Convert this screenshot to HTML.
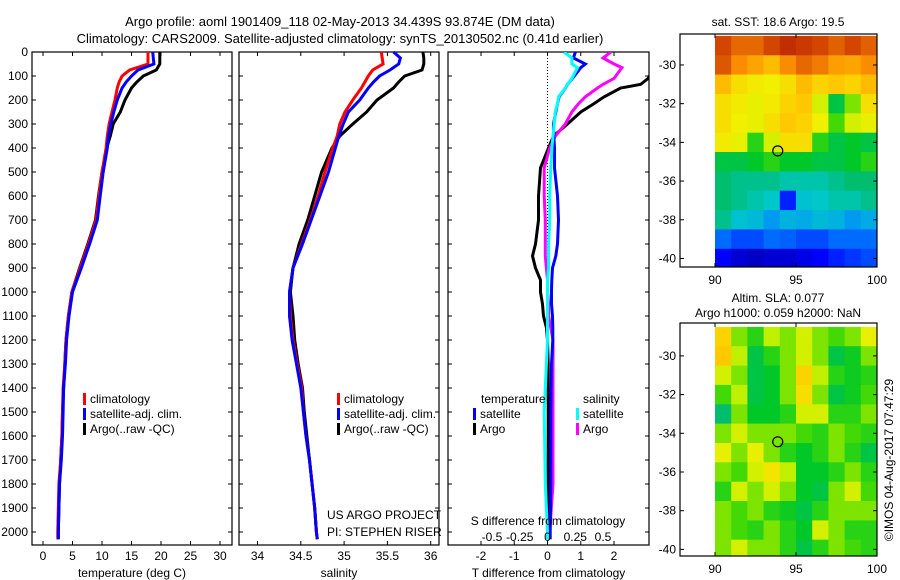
<!DOCTYPE html>
<html><head><meta charset="utf-8"><style>
body{margin:0;background:#fff;}
svg{display:block;font-family:"Liberation Sans",sans-serif;}
text{font-size:12px;fill:#000;}
</style></head><body>
<svg id="c" width="900" height="580" viewBox="0 0 900 580" xmlns="http://www.w3.org/2000/svg">
<text x="340" y="26" text-anchor="middle" style="font-size:13px">Argo profile: aoml 1901409_118 02-May-2013 34.439S 93.874E (DM data)</text>
<text x="340" y="43" text-anchor="middle" style="font-size:13px">Climatology: CARS2009. Satellite-adjusted climatology: synTS_20130502.nc (0.41d earlier)</text>
<g id="g"></g>
</svg>
<script>
const depths=[0,25,50,75,100,125,150,200,250,300,350,400,500,600,700,800,900,1000,1100,1200,1300,1400,1500,1600,1700,1800,1900,2000,2030];
const tempClim=[17.8,17.8,17.8,14.7,13.4,12.9,12.6,12.2,11.7,11.2,10.9,10.7,10.0,9.5,9.0,7.7,6.3,4.9,4.3,3.9,3.7,3.4,3.3,3.2,3.0,2.7,2.6,2.5,2.5];
const tempSat=[18.6,18.7,18.8,16.1,15.0,14.1,13.4,12.6,12.0,11.5,11.1,10.9,10.2,9.7,9.2,7.9,6.5,5.0,4.4,4.0,3.8,3.5,3.4,3.3,3.1,2.8,2.7,2.6,2.6];
const tempArgo=[19.8,19.8,19.8,19.2,17.0,15.9,15.0,13.9,13.1,11.9,11.4,10.8,10.0,9.4,8.9,7.6,6.2,4.9,4.3,3.9,3.7,3.5,3.3,3.2,3.0,2.8,2.7,2.6,2.6];
const salClim=[35.43,35.44,35.45,35.33,35.28,35.24,35.2,35.1,35.01,34.95,34.92,34.87,34.78,34.7,34.61,34.51,34.41,34.37,34.38,34.41,34.46,34.51,34.53,34.56,34.6,34.63,34.66,34.68,34.69];
const salSat=[35.57,35.65,35.63,35.53,35.41,35.34,35.28,35.18,35.05,34.99,34.94,34.9,34.82,34.72,34.62,34.52,34.41,34.37,34.37,34.4,34.45,34.5,34.53,34.56,34.6,34.63,34.66,34.68,34.69];
const salArgo=[35.91,35.92,35.92,35.9,35.7,35.63,35.57,35.38,35.26,35.1,34.95,34.86,34.74,34.66,34.58,34.48,34.41,34.38,34.41,34.43,34.47,34.52,34.54,34.57,34.6,34.63,34.66,34.68,34.69];
const diffDepths=[0,25,50,65,110,135,150,187,215,250,300,350,400,483,600,700,800,850,900,950,1000,1050,1100,1150,1200,1300,1500,1800,2000,2030];
const dTSat=[0.84,0.78,1.14,1.0,0.75,0.6,0.54,0.35,0.3,0.25,0.18,0.19,0.21,0.21,0.3,0.33,0.3,0.25,0.15,0.13,0.12,0.12,0.15,0.16,0.16,0.12,0.1,0.1,0.08,0.08];
const dTArgo=[3.2,3.2,3.2,3.2,3.03,2.8,2.2,1.7,1.4,1.0,0.6,0.18,0.03,-0.21,-0.27,-0.27,-0.36,-0.45,-0.36,-0.21,-0.21,-0.15,-0.12,-0.03,0,0.02,0.02,0.02,0.02,0.02];
const dSSat=[0.15,0.22,0.22,0.27,0.22,0.18,0.16,0.1,0.09,0.07,0.06,0.05,0.04,0.03,0.02,0.02,0.01,0.01,0.01,0.0,0.0,0.0,0.0,0.0,0.0,-0.01,-0.03,-0.02,0.0,0.0];
const dSArgo=[0.57,0.5,0.6,0.67,0.6,0.5,0.45,0.34,0.28,0.22,0.16,0.07,0.02,-0.03,-0.03,-0.02,-0.02,-0.02,-0.01,0,0,0.01,0.01,0.03,0.05,0.05,0.05,0.05,0.02,0.02];
const depthTicks=[0,100,200,300,400,500,600,700,800,900,1000,1100,1200,1300,1400,1500,1600,1700,1800,1900,2000];
const tempTicks=[0,5,10,15,20,25,30];
const salTicks=[34,34.5,35,35.5,36];
const salTickLabels=["34","34.5","35","35.5","36"];
const dTTicks=[-2,-1,0,1,2];
const dSTicks=[-0.5,-0.25,0,0.25,0.5];
const dSTickLabels=["-0.5","-0.25","0","0.25","0.5"];
const lonTicks=[90,95,100];
const latTicks=[-30,-32,-34,-36,-38,-40];
const argoLon=93.874, argoLat=-34.439;
const sstGrid=[
[0.88,0.84,0.84,0.88,0.92,0.9,0.88,0.85,0.88,0.85],
[0.86,0.8,0.76,0.72,0.8,0.84,0.82,0.77,0.76,0.8],
[0.72,0.66,0.64,0.63,0.66,0.72,0.68,0.7,0.68,0.72],
[0.66,0.64,0.62,0.64,0.68,0.7,0.6,0.45,0.55,0.66],
[0.66,0.63,0.62,0.66,0.7,0.68,0.63,0.52,0.6,0.62],
[0.64,0.62,0.5,0.6,0.66,0.66,0.5,0.45,0.47,0.45],
[0.45,0.45,0.47,0.5,0.47,0.47,0.45,0.45,0.47,0.5],
[0.42,0.4,0.4,0.4,0.38,0.38,0.38,0.4,0.42,0.42],
[0.42,0.4,0.38,0.36,0.18,0.35,0.36,0.38,0.38,0.4],
[0.4,0.35,0.34,0.3,0.33,0.32,0.34,0.33,0.3,0.32],
[0.25,0.22,0.22,0.25,0.24,0.22,0.22,0.25,0.25,0.25],
[0.15,0.1,0.08,0.1,0.1,0.12,0.15,0.18,0.2,0.22]];
const slaGrid=[
[0.68,0.55,0.5,0.58,0.55,0.6,0.55,0.52,0.55,0.62],
[0.7,0.58,0.45,0.5,0.55,0.6,0.55,0.45,0.48,0.55],
[0.6,0.55,0.45,0.47,0.55,0.68,0.58,0.5,0.48,0.5],
[0.52,0.58,0.45,0.47,0.55,0.66,0.55,0.45,0.48,0.52],
[0.42,0.55,0.47,0.47,0.5,0.6,0.6,0.5,0.5,0.55],
[0.55,0.6,0.55,0.55,0.55,0.52,0.5,0.55,0.52,0.5],
[0.62,0.55,0.62,0.55,0.5,0.47,0.5,0.55,0.5,0.45],
[0.55,0.52,0.6,0.65,0.58,0.47,0.47,0.5,0.55,0.5],
[0.5,0.6,0.55,0.6,0.55,0.47,0.45,0.55,0.6,0.52],
[0.55,0.52,0.55,0.5,0.48,0.45,0.5,0.55,0.55,0.55],
[0.55,0.52,0.5,0.55,0.5,0.47,0.6,0.55,0.5,0.5],
[0.55,0.6,0.55,0.55,0.5,0.45,0.5,0.55,0.52,0.5]];

const NS="http://www.w3.org/2000/svg";
const G=document.getElementById('g');
function mk(tag,attrs,parent){const e=document.createElementNS(NS,tag);for(const k in attrs)e.setAttribute(k,attrs[k]);(parent||G).appendChild(e);return e;}
function txt(s,x,y,anchor,size,parent){const t=mk('text',{x:x,y:y,'text-anchor':anchor||'start'},parent);if(size)t.style.fontSize=size+'px';t.textContent=s;return t;}
const Y0=52,YK=0.24;
function yD(d){return Y0+d*YK;}
function lin(v0,p0,v1,p1){return v=>p0+(v-v0)*(p1-p0)/(v1-v0);}
const xT=lin(0,43,30,220);
const xS=lin(34,257.5,36,430.7);
const xDT=lin(0,547.5,2,614);
const xDS=lin(0,547.5,0.5,603);
const PT=52,PB=545;
function panel(name,x0,x1,xs,ticks,labels,title,showDepth){
  const g=mk('g',{});
  
  
  const r=mk('rect',{x:x0,y:PT,width:x1-x0,height:PB-PT,fill:'none',stroke:'#000','stroke-width':1.2},g);
  
  
  depthTicks.forEach(d=>{
    mk('line',{x1:x0,x2:x0+4,y1:yD(d),y2:yD(d),stroke:'#000'},g);
    mk('line',{x1:x1-4,x2:x1,y1:yD(d),y2:yD(d),stroke:'#000'},g);
    if(showDepth){const t=txt(String(d),28,yD(d)+4,'end',12,g);
      
      }
  });
  if(ticks){ticks.forEach((v,i)=>{
    const x=xs(v);
    mk('line',{x1:x,x2:x,y1:PB,y2:PB-4,stroke:'#000'},g);
    mk('line',{x1:x,x2:x,y1:PT,y2:PT+4,stroke:'#000'},g);
    const t=txt(labels[i],x,560,'middle',12,g);
    
    
  });}
  const tt=txt(title,(x0+x1)/2,577,'middle',12,g);
  
  
  return g;
}
function series(name,vals,ds,xs,color,g,w){
  const pts=vals.map((v,i)=>xs(v).toFixed(1)+','+yD(ds[i]).toFixed(1)).join(' ');
  const p=mk('polyline',{points:pts,fill:'none',stroke:color,'stroke-width':w||3,'stroke-linejoin':'miter'},g);
  
  
}
function legendEntry(name,x,y,color,label,g){
  const r=mk('rect',{x:x,y:y-10,width:3,height:12,fill:color},g);
  
  
  const t=txt(label,x+7,y,'start',12,g);
  
  
}
const p1=panel('temperature-panel',32,232,xT,tempTicks,tempTicks.map(String),'temperature (deg C)',true);
series('temp-argo-line',tempArgo,depths,xT,'#000',p1);
series('temp-clim-line',tempClim,depths,xT,'#f00',p1);
series('temp-sat-line',tempSat,depths,xT,'#00f',p1);
legendEntry('legend-climatology',83,403,'#f00','climatology',p1);
legendEntry('legend-satellite-adj',83,418,'#00f','satellite-adj. clim.',p1);
legendEntry('legend-argo',83,433,'#000','Argo(..raw -QC)',p1);
const p2=panel('salinity-panel',239,439,xS,salTicks,salTickLabels,'salinity',false);
series('sal-argo-line',salArgo,depths,xS,'#000',p2);
series('sal-clim-line',salClim,depths,xS,'#f00',p2);
series('sal-sat-line',salSat,depths,xS,'#00f',p2);
legendEntry('legend-climatology-2',337,403,'#f00','climatology',p2);
legendEntry('legend-satellite-adj-2',337,418,'#00f','satellite-adj. clim.',p2);
legendEntry('legend-argo-2',337,433,'#000','Argo(..raw -QC)',p2);
let t1=txt('US ARGO PROJECT',327,519,'start',12,p2);


let t2=txt('PI: STEPHEN RISER',327,536,'start',12,p2);


const p3=panel('difference-panel',448,649,xDT,dTTicks,dTTicks.map(String),'T difference from climatology',false);
const cp=mk('clipPath',{id:'clip3'},p3);
mk('rect',{x:448,y:PT,width:201,height:PB-PT},cp);
const z=mk('line',{x1:xDT(0),x2:xDT(0),y1:PT,y2:PB,stroke:'#000','stroke-dasharray':'1,2'},p3);


const sg=mk('g',{'clip-path':'url(#clip3)'},p3);
series('dT-argo-line',dTArgo,diffDepths,xDT,'#000',sg);
series('dS-argo-line',dSArgo,diffDepths,xDS,'#f0f',sg);
series('dT-sat-line',dTSat,diffDepths,xDT,'#00f',sg);
series('dS-sat-line',dSSat,diffDepths,xDS,'#0ff',sg);
let tl=txt('temperature',481,403,'start',12,p3);


let sl=txt('salinity',583,403,'start',12,p3);


legendEntry('legend-t-satellite',473,418,'#00f','satellite',p3);
legendEntry('legend-t-argo',473,433,'#000','Argo',p3);
legendEntry('legend-s-satellite',576,418,'#0ff','satellite',p3);
legendEntry('legend-s-argo',576,433,'#f0f','Argo',p3);
let st=txt('S difference from climatology',548,525,'middle',12,p3);


dSTicks.forEach((v,i)=>{
  const t=txt(dSTickLabels[i],xDS(v),541,'middle',12,p3);
  
  
});
const cmStops=[[0,[0,0,130]],[0.15,[0,0,255]],[0.28,[0,140,255]],[0.36,[0,200,200]],[0.42,[0,190,110]],[0.47,[0,200,40]],[0.53,[80,220,0]],[0.58,[190,240,0]],[0.63,[240,240,0]],[0.7,[255,200,0]],[0.8,[250,140,0]],[0.88,[210,70,0]],[1,[160,0,0]]];
function cmap(v){for(let i=1;i<cmStops.length;i++){if(v<=cmStops[i][0]){const a=cmStops[i-1],b=cmStops[i];const f=(v-a[0])/(b[0]-a[0]);const c=a[1].map((x,k)=>Math.round(x+(b[1][k]-x)*f));return 'rgb('+c.join(',')+')';}}return 'rgb(160,0,0)';}
function mapPanel(name,top,bot,latTop,grid,title1,title2,tY){
  const g=mk('g',{});
  
  
  const xL=lin(90,715,100,877);
  const yL=v=>top+(latTop-v)*19.35;
  const cid='clip'+name;
  const c=mk('clipPath',{id:cid},g);
  mk('rect',{x:715,y:top,width:162,height:bot-top},c);
  const hg=mk('g',{'clip-path':'url(#'+cid+')'},g);
  grid.forEach((row,r)=>row.forEach((v,k)=>{
    const lat=-28.5-r;
    const rc=mk('rect',{x:xL(90+k).toFixed(1),y:yL(lat).toFixed(1),width:16.9,height:20,fill:cmap(v)},hg);
    
    
  }));
  const fr=mk('rect',{x:680,y:top,width:197,height:bot-top,fill:'none',stroke:'#000','stroke-width':1.2},g);
  
  
  latTicks.forEach(v=>{
    const y=yL(v);
    mk('line',{x1:680,x2:684,y1:y,y2:y,stroke:'#000'},g);
    mk('line',{x1:873,x2:877,y1:y,y2:y,stroke:'#000'},g);
    const t=txt(String(v),676,y+4,'end',12,g);
    
    
  });
  lonTicks.forEach(v=>{
    const x=xL(v);
    mk('line',{x1:x,x2:x,y1:bot,y2:bot-4,stroke:'#000'},g);
    mk('line',{x1:x,x2:x,y1:top,y2:top+4,stroke:'#000'},g);
    const t=txt(String(v),x,bot+17,'middle',12,g);
    
    
  });
  const ci=mk('circle',{cx:xL(argoLon),cy:yL(argoLat),r:5,fill:'none',stroke:'#000','stroke-width':1.2},g);
  
  
  const a=txt(title1,778,tY,'middle',12,g);
  
  
  if(title2){const b=txt(title2,778,tY+15,'middle',12,g);
    
    }
}
mapPanel('sst-map',34,267,-28.4,sstGrid,'sat. SST: 18.6 Argo: 19.5',null,26);
mapPanel('sla-map',323,556,-28.3,slaGrid,'Altim. SLA: 0.077','Argo h1000: 0.059 h2000: NaN',302);
const cr=txt('©IMOS 04-Aug-2017 07:47:29',0,0,'middle',12);
cr.setAttribute('transform','translate(893,460) rotate(-90)');


</script>
</body></html>
